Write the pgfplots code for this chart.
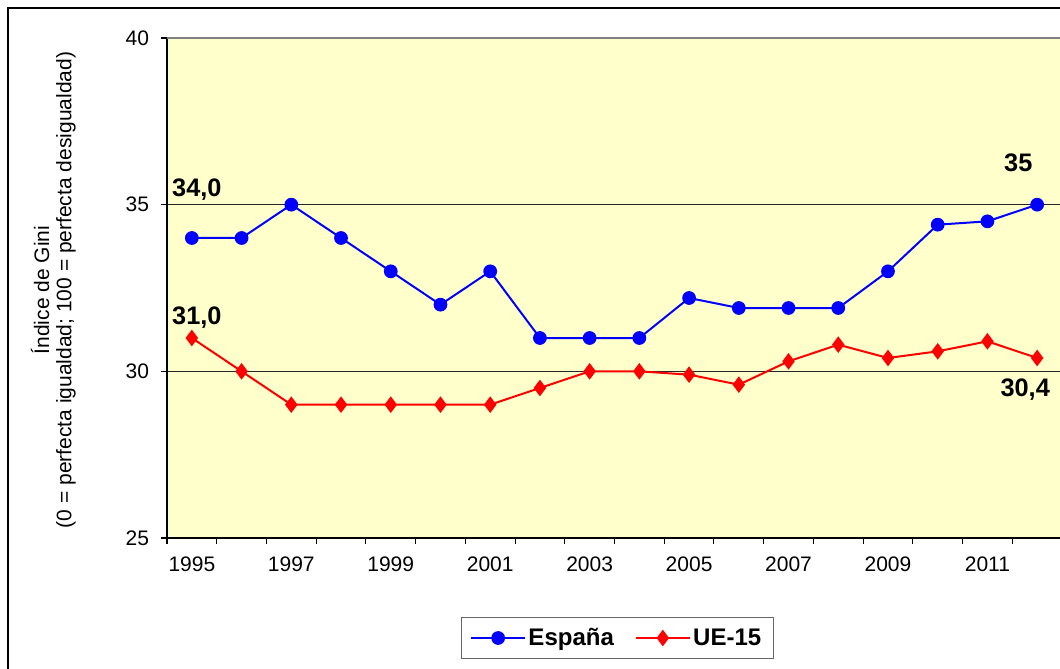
\documentclass[border=0pt]{standalone}
\usepackage{fontspec}
\setmainfont{Liberation Sans}
\usepackage{pgfplots}
\pgfplotsset{compat=1.18}
\definecolor{plotbg}{RGB}{255,255,204}
\definecolor{esp}{RGB}{0,0,255}
\definecolor{ue}{RGB}{255,0,0}
\pgfplotstableread{
year esp ue
1995 34.0 31.0
1996 34.0 30.0
1997 35.0 29.0
1998 34.0 29.0
1999 33.0 29.0
2000 32.0 29.0
2001 33.0 29.0
2002 31.0 29.5
2003 31.0 30.0
2004 31.0 30.0
2005 32.2 29.9
2006 31.9 29.6
2007 31.9 30.3
2008 31.9 30.8
2009 33.0 30.4
2010 34.4 30.6
2011 34.5 30.9
2012 35.0 30.4
}\datatable
\begin{document}
\begin{tikzpicture}[x=0.75pt,y=0.75pt]
\useasboundingbox (0,0) rectangle (1060,668);
\draw[line width=1.6pt] (8,-20) rectangle (1100,660);
\begin{axis}[
  at={(125.25pt,97.5pt)}, anchor=south west, scale only axis,
  width=671.25pt, height=375pt,
  xmin=1994.5, xmax=2012.5, ymin=25, ymax=40,
  axis background/.style={fill=plotbg},
  axis x line*=bottom, axis y line*=left,
  axis line style={black, line width=1pt},
  ytick={25,30,35,40},
  ymajorgrids, major grid style={black!85, line width=0.7pt},
  xtick={1994.5,1995.5,...,2012.5}, xticklabels={},
  extra x ticks={1995,1997,...,2011},
  extra x tick style={major tick length=0pt, grid=none},
  extra x tick labels={1995,1997,1999,2001,2003,2005,2007,2009,2011},
  tick align=outside, major tick length=4.5pt,
  tick style={black, line width=0.8pt},
  xtick pos=bottom, ytick pos=left,
  tick label style={font=\fontsize{15.75}{18}\selectfont},
  /pgf/number format/assume math mode=true,
  /pgf/number format/1000 sep={},
  xticklabel style={yshift=-10.5pt},
  yticklabel style={xshift=-5.5pt},
  clip=false,
  legend style={at={(0.503,-0.2)}, anchor=center, draw=black!60, line width=0.8pt,
    font=\bfseries\fontsize{18}{22}\selectfont, legend columns=2,
    inner xsep=7pt, inner ysep=6pt,
    /tikz/every even column/.append style={column sep=14pt}},
  legend image code/.code={\draw[mark repeat=2,mark phase=2] plot coordinates {(0pt,0pt) (20pt,0pt) (40pt,0pt)};},
]
\draw[black!50, line width=1.2pt] (axis cs:1994.5,40) -- (axis cs:2012.5,40);
\addplot[esp, line width=1.5pt, mark=*, mark size=4.4pt, mark options={solid, fill=esp}] table[x=year,y=esp] {\datatable};
\addlegendentry{España}
\addplot[ue, line width=1.5pt, mark=diamond*, mark size=5pt, mark options={solid, fill=ue}] table[x=year,y=ue] {\datatable};
\addlegendentry{UE-15}
\node[font=\bfseries\fontsize{19}{22}\selectfont] at (axis cs:1995.1,35.45) {34,0};
\node[font=\bfseries\fontsize{19}{22}\selectfont] at (axis cs:1995.1,31.6) {31,0};
\node[font=\bfseries\fontsize{19}{22}\selectfont] at (axis cs:2011.62,36.25) {35};
\node[font=\bfseries\fontsize{19}{22}\selectfont] at (axis cs:2011.76,29.45) {30,4};
\end{axis}
\node[rotate=90, font=\fontsize{15.75}{18}\selectfont] at (40,378) {Índice de Gini};
\node[rotate=90, font=\fontsize{15.75}{18}\selectfont] at (66,378) {(0 = perfecta igualdad; 100 = perfecta desigualdad)};
\end{tikzpicture}
\end{document}
